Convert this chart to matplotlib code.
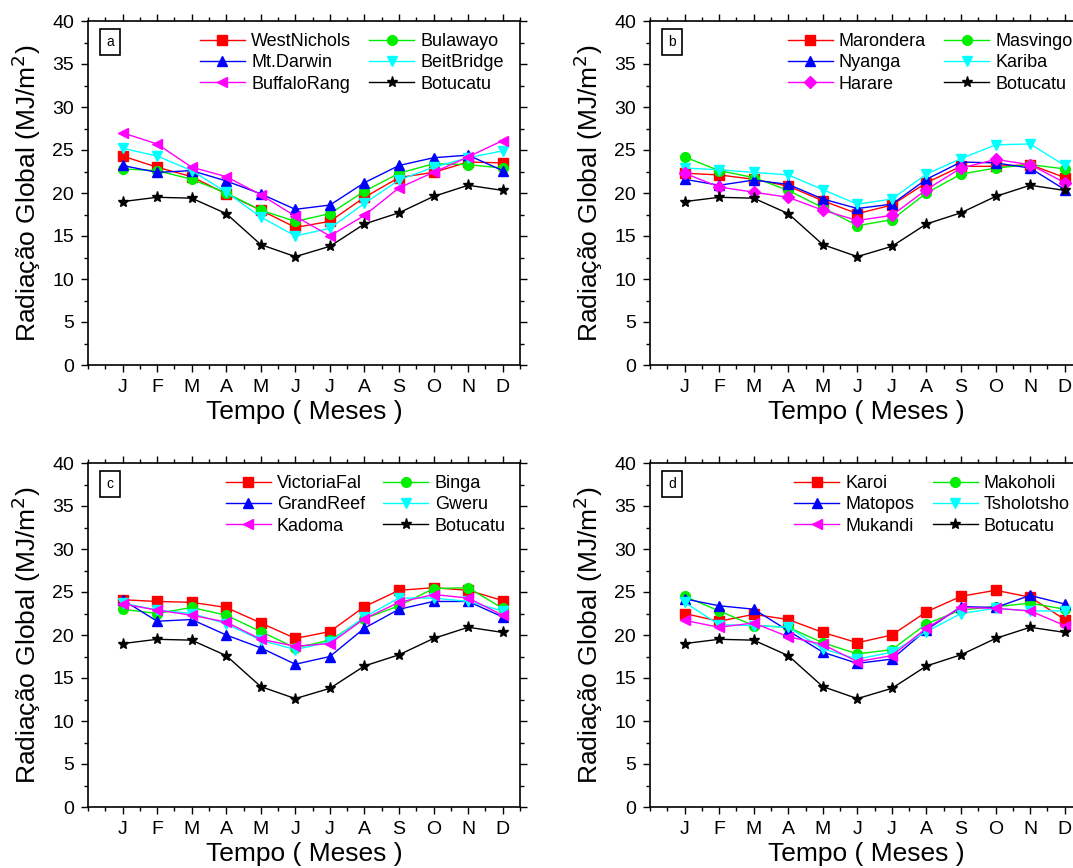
import matplotlib
matplotlib.use("Agg")
import matplotlib.pyplot as plt
from matplotlib.ticker import MultipleLocator

plt.rcParams['font.family'] = ['Liberation Sans', 'DejaVu Sans']

months = ['J', 'F', 'M', 'A', 'M', 'J', 'J', 'A', 'S', 'O', 'N', 'D']
mes = list(range(1, 13))

# Botucatu (referencia, igual em todos os paineis)
botucatu = [19.0, 19.5, 19.4, 17.6, 14.0, 12.6, 13.8, 16.4, 17.7, 19.6, 20.9, 20.3]

# painel a
west_nichols = [24.3, 23.0, 21.9, 19.9, 18.0, 16.0, 16.7, 19.5, 21.8, 22.4, 23.6, 23.5]
bulawayo = [22.8, 22.6, 21.6, 20.0, 18.0, 16.7, 17.6, 20.2, 22.3, 23.4, 23.3, 22.9]
mt_darwin = [23.2, 22.4, 22.6, 21.4, 19.9, 18.1, 18.6, 21.2, 23.2, 24.1, 24.4, 22.6]
beit_bridge = [25.2, 24.3, 22.6, 20.1, 17.2, 15.0, 15.9, 18.8, 21.5, 23.0, 24.1, 24.9]
buffalo_rang = [27.0, 25.7, 23.0, 21.9, 19.8, 17.3, 15.0, 17.4, 20.6, 22.4, 24.2, 26.1]

# painel b
marondera = [22.3, 22.1, 21.6, 20.8, 19.1, 17.6, 18.6, 21.2, 23.1, 23.1, 23.3, 21.8]
masvingo = [24.2, 22.6, 21.8, 20.3, 18.3, 16.2, 16.9, 20.0, 22.2, 22.9, 23.3, 22.8]
nyanga = [21.6, 20.9, 21.5, 21.0, 19.3, 18.2, 18.7, 21.6, 23.6, 23.5, 22.9, 20.4]
kariba = [22.9, 22.7, 22.4, 22.1, 20.4, 18.7, 19.3, 22.2, 24.0, 25.6, 25.7, 23.2]
harare = [22.3, 20.7, 20.1, 19.5, 18.0, 16.8, 17.4, 20.4, 22.9, 23.9, 23.3, 21.2]

# painel c
victoria_fal = [24.1, 23.9, 23.8, 23.2, 21.4, 19.6, 20.4, 23.3, 25.2, 25.5, 25.2, 24.0]
binga = [23.0, 22.5, 23.2, 22.3, 20.4, 18.5, 19.4, 21.9, 23.4, 25.4, 25.5, 23.1]
grand_reef = [24.1, 21.6, 21.8, 20.0, 18.5, 16.6, 17.5, 20.8, 23.0, 23.9, 23.9, 22.1]
gweru = [23.7, 22.9, 22.5, 21.3, 19.4, 18.3, 19.2, 22.1, 24.3, 24.3, 23.9, 22.8]
kadoma = [23.6, 22.9, 22.3, 21.5, 19.5, 18.7, 19.0, 21.9, 23.8, 24.7, 24.3, 22.3]

# painel d
karoi = [22.5, 21.6, 22.4, 21.8, 20.3, 19.1, 20.0, 22.7, 24.5, 25.2, 24.4, 21.8]
makoholi = [24.5, 22.8, 21.1, 20.9, 19.1, 17.8, 18.3, 21.3, 22.9, 23.3, 23.7, 23.0]
matopos = [24.2, 23.4, 23.0, 20.5, 18.0, 16.7, 17.2, 20.6, 23.3, 23.2, 24.6, 23.6]
tsholotsho = [23.8, 21.2, 21.1, 20.9, 18.4, 17.2, 18.0, 20.4, 22.5, 23.1, 22.8, 22.8]
mukandi = [21.7, 20.9, 21.4, 19.8, 18.9, 16.9, 17.6, 20.8, 23.2, 23.1, 22.8, 21.1]

paineis = [
    ('a', [('WestNichols', west_nichols), ('Bulawayo', bulawayo), ('Mt.Darwin', mt_darwin),
           ('BeitBridge', beit_bridge), ('BuffaloRang', buffalo_rang)], '<'),
    ('b', [('Marondera', marondera), ('Masvingo', masvingo), ('Nyanga', nyanga),
           ('Kariba', kariba), ('Harare', harare)], 'D'),
    ('c', [('VictoriaFal', victoria_fal), ('Binga', binga), ('GrandReef', grand_reef),
           ('Gweru', gweru), ('Kadoma', kadoma)], '<'),
    ('d', [('Karoi', karoi), ('Makoholi', makoholi), ('Matopos', matopos),
           ('Tsholotsho', tsholotsho), ('Mukandi', mukandi)], '<'),
]

cores = ['#ff0000', '#00ee00', '#0000ff', '#00ffff', '#ff00ff']
marcadores = ['s', 'o', '^', 'v', None]

fig = plt.figure(figsize=(10.73, 8.68), dpi=100)
W, H = 1073, 868
posicoes = [(88, 21), (650, 21), (88, 463), (650, 463)]
leg_x = [0.25, 0.31, 0.31, 0.325]

for k, (letra, series, ultimo) in enumerate(paineis):
    x0, y0 = posicoes[k]
    ax = fig.add_axes([x0 / W, 1 - (y0 + 344) / H, 432 / W, 344 / H])
    hs = []
    for i, (nome, vals) in enumerate(series):
        mk = marcadores[i] if marcadores[i] else ultimo
        ms = 6 if mk == 'D' else 7
        h, = ax.plot(mes, vals, color=cores[i], marker=mk, markersize=ms, lw=1, label=nome)
        hs.append(h)
    hb, = ax.plot(mes, botucatu, color='black', marker='*', markersize=8, lw=1, label='Botucatu')
    hs.append(hb)
    ax.set_xlim(0, 12.5)
    ax.set_ylim(0, 40)
    ax.set_xticks(mes)
    ax.set_xticklabels(months)
    ax.xaxis.set_minor_locator(MultipleLocator(0.5))
    ax.yaxis.set_major_locator(MultipleLocator(5))
    ax.yaxis.set_minor_locator(MultipleLocator(2.5))
    ax.tick_params(which='both', direction='out', top=True, right=True, labelsize=14, width=1)
    ax.tick_params(which='major', length=5, pad=5)
    ax.tick_params(which='minor', length=3)
    for s in ax.spines.values():
        s.set_linewidth(1.2)
    ax.set_xlabel('Tempo ( Meses )', fontsize=19, labelpad=3)
    ax.set_ylabel('Radiação Global (MJ/m$^2$)', fontsize=19, labelpad=7)
    ax.text(0.051, 0.939, letra, transform=ax.transAxes, fontsize=10, ha='center', va='center',
            bbox=dict(boxstyle='square,pad=0.45', fc='white', ec='black', lw=1.2))
    # ordem das colunas: linha a linha
    ordem = [hs[0], hs[2], hs[4], hs[1], hs[3], hs[5]]
    ax.legend(handles=ordem, ncol=2, loc='upper left', bbox_to_anchor=(leg_x[k], 0.975),
              frameon=False, fontsize=13, handlelength=2.5, handletextpad=0.35,
              columnspacing=1.0, labelspacing=0.23, borderpad=0.2, borderaxespad=0)

fig.savefig('out.png', dpi=100)
